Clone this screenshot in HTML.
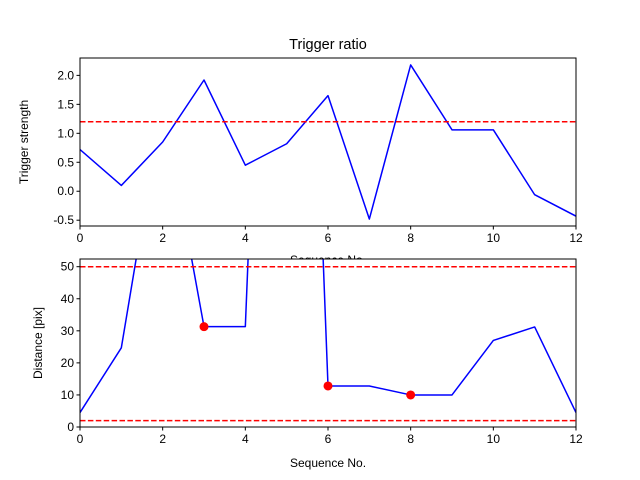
<!DOCTYPE html>
<html><head><meta charset="utf-8"><style>body{margin:0;background:#fff}svg{display:block;font-family:"Liberation Sans","DejaVu Sans",sans-serif}</style></head>
<body>
<svg id="c" width="640" height="480" xmlns="http://www.w3.org/2000/svg"></svg>
<script>
const seq=[0,1,2,3,4,5,6,7,8,9,10,11,12];
const strength=[0.72,0.1,0.85,1.92,0.45,0.82,1.65,-0.48,2.18,1.06,1.06,-0.06,-0.43];
const strengthThreshold=[1.2];
const distance=[4.5,24.7,102,31.3,31.3,350,12.8,12.8,10,10,27,31.2,4.5];
const distanceLimits=[50,2];
const markedIdx=[3,6,8];
const xTicks=[0,2,4,6,8,10,12];
const yTicksTop=[-0.5,0.0,0.5,1.0,1.5,2.0];
const yTicksBot=[0,10,20,30,40,50];

const NS="http://www.w3.org/2000/svg";const svg=document.getElementById('c');
function mk(t,a,p){const e=document.createElementNS(NS,t);for(const k in a)e.setAttribute(k,a[k]);(p||svg).appendChild(e);return e;}
const L=80,R=576;
const xs=v=>L+(v-0)/(12-0)*(R-L);
function panel(top,bot,ymin,ymax,vals,name){
  const ys=v=>bot-(v-ymin)/(ymax-ymin)*(bot-top);
  const g=mk('g',{});
  mk('rect',{x:L,y:top,width:R-L,height:bot-top,fill:'#fff'},g);
  const cid='clip'+name;const cp=mk('clipPath',{id:cid},g);mk('rect',{x:L,y:top,width:R-L,height:bot-top},cp);
  const inner=mk('g',{'clip-path':'url(#'+cid+')'},g);
  const line=mk('polyline',{points:vals.map((v,i)=>xs(seq[i])+','+ys(v)).join(' '),fill:'none',stroke:'#0000ff','stroke-width':1.5,'stroke-linejoin':'round'},inner);
  
  return {g,inner,ys};
}
function axes(p,top,bot,yTicks,fmt,ylabel,labelX){
  const {g,ys}=p;
  mk('rect',{x:L,y:top,width:R-L,height:bot-top,fill:'none',stroke:'#000','stroke-width':1},g);
  xTicks.forEach(t=>{mk('line',{x1:xs(t),x2:xs(t),y1:bot,y2:bot+3.5,stroke:'#000'},g);
    const tx=mk('text',{x:xs(t),y:bot+16,'font-size':12,'text-anchor':'middle'},g);tx.textContent=t;
    });
  yTicks.forEach(t=>{mk('line',{x1:L-3.5,x2:L,y1:ys(t),y2:ys(t),stroke:'#000'},g);
    const tx=mk('text',{x:L-6,y:ys(t)+4,'font-size':12,'text-anchor':'end'},g);tx.textContent=fmt(t);
    });
  const yl=mk('text',{x:0,y:0,'font-size':12,'text-anchor':'middle',transform:`translate(${labelX},${(top+bot)/2}) rotate(-90)`},g);yl.textContent=ylabel;
  
}
const xl1=mk('text',{x:328,y:264,'font-size':12,'text-anchor':'middle'});xl1.textContent='Sequence No.';

const p1=panel(58,226,-0.6,2.3,strength,'top-panel');
strengthThreshold.forEach(v=>{const l=mk('line',{x1:L,x2:R,y1:p1.ys(v),y2:p1.ys(v),stroke:'#ff0000','stroke-width':1.5,'stroke-dasharray':'5.5,2.4'},p1.inner);
  });
axes(p1,58,226,yTicksTop,t=>t.toFixed(1),'Trigger strength',28);
const tt=mk('text',{x:328,y:49,'font-size':14.5,'text-anchor':'middle'});tt.textContent='Trigger ratio';


const p2=panel(259,427,0,52.4,distance,'bottom-panel');
distanceLimits.forEach(v=>{const l=mk('line',{x1:L,x2:R,y1:p2.ys(v),y2:p2.ys(v),stroke:'#ff0000','stroke-width':1.5,'stroke-dasharray':'5.5,2.4'},p2.inner);
  });
markedIdx.forEach(i=>{const c=mk('circle',{cx:xs(seq[i]),cy:p2.ys(distance[i]),r:4.5,fill:'#ff0000'},p2.inner);
  });
axes(p2,259,427,yTicksBot,t=>String(t),'Distance [pix]',42);
const xl2=mk('text',{x:328,y:467,'font-size':12,'text-anchor':'middle'});xl2.textContent='Sequence No.';

</script>
</body></html>
